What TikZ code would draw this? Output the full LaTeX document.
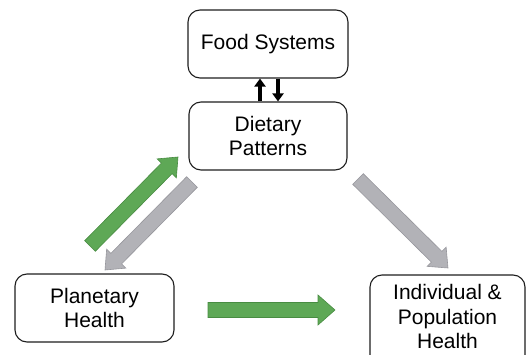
\documentclass[tikz,border=0pt]{standalone}
\usepackage{fontspec}
\setmainfont{Liberation Sans}
\usetikzlibrary{calc,arrows.meta}
\definecolor{grnfill}{RGB}{94,168,86}
\definecolor{grnedge}{RGB}{72,140,66}
\definecolor{gryfill}{RGB}{178,178,183}
\definecolor{gryedge}{RGB}{150,150,156}
\definecolor{boxedge}{RGB}{30,30,30}
% block arrow: #1 style, #2 tail, #3 tip, #4 shaft half width, #5 head half width, #6 head length
\newcommand\blkarrow[6]{%
  \coordinate (bab) at ($(#3)!#6!(#2)$);
  \filldraw[#1] ($(#2)!#4!90:(#3)$) -- ($(bab)!#4!90:(#3)$) -- ($(bab)!#5!90:(#3)$) -- (#3)
    -- ($(bab)!#5!-90:(#3)$) -- ($(bab)!#4!-90:(#3)$) -- ($(#2)!#4!-90:(#3)$) -- cycle;}
\begin{document}
\begin{tikzpicture}[x=1pt,y=-1pt,
  box/.style={draw=boxedge, line width=1.1pt, rounded corners=12pt, fill=white,
    align=center, font=\fontsize{21pt}{24.5pt}\selectfont, inner sep=2pt},
  grnarrow/.style={fill=grnfill, draw=grnedge, line width=0.6pt},
  gryarrow/.style={fill=gryfill, draw=gryedge, line width=0.6pt},
  smallarrow/.style={line width=4pt, -{Triangle[width=11pt,length=8pt]}}]
\useasboundingbox (0,0) rectangle (526,355);
\node[box, minimum width=160pt, minimum height=68pt] (food) at (268,44) {Food Systems};
\node[box, minimum width=158pt, minimum height=68pt] (diet) at (268,136) {Dietary\\Patterns};
\node[box, minimum width=159pt, minimum height=68pt] (planet) at (94.5,308) {Planetary\\Health};
\node[box, minimum width=155pt, minimum height=92pt, text depth=9pt] (indiv) at (447.5,321) {Individual \&\\Population\\Health};
\draw[smallarrow] ([xshift=-8pt]diet.north) -- ([xshift=-8pt]food.south);
\draw[smallarrow] ([xshift=10pt]food.south) -- ([xshift=10pt]diet.north);
\coordinate (g1a) at (90,246);
\coordinate (g1b) at (178,157);
\coordinate (g2a) at (192,182);
\coordinate (g2b) at (105,270);
\coordinate (g3a) at (358,179);
\coordinate (g3b) at (448,268);
\coordinate (g4a) at (208,310);
\coordinate (g4b) at (335,310);
\blkarrow{grnarrow}{g1a}{g1b}{7.5pt}{13.5pt}{16pt}
\blkarrow{gryarrow}{g2a}{g2b}{7.5pt}{13.5pt}{16pt}
\blkarrow{gryarrow}{g3a}{g3b}{7.5pt}{13.5pt}{16pt}
\blkarrow{grnarrow}{g4a}{g4b}{7.5pt}{15pt}{17pt}
\end{tikzpicture}
\end{document}
